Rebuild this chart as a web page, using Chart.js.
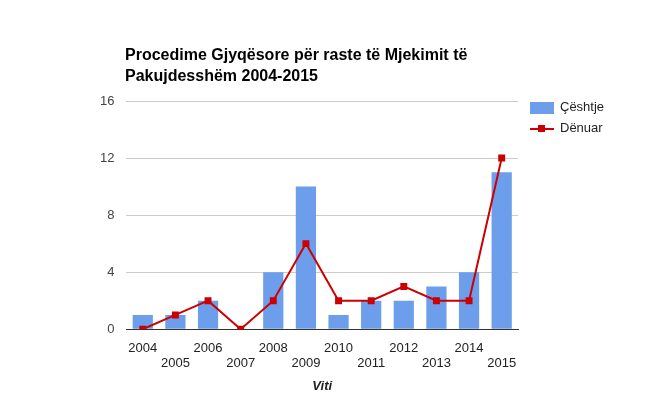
<!DOCTYPE html>
<html lang="sq">
<head>
<meta charset="UTF-8"/>
<script src="https://cdn.jsdelivr.net/npm/chart.js"></script>
<style>
  body { margin:0; background:#fff; font-family: Arial, "Liberation Sans", sans-serif; }
  #wrap { position:relative; width:659px; height:404px; }
  #title { position:absolute; left:125px; top:44px; font-weight:bold; font-size:16px; line-height:21px; color:#000; }
  .leg { position:absolute; left:530px; font-size:13px; color:#222; height:14px; line-height:14px; }
  .leg .sw { display:inline-block; width:24px; height:12px; vertical-align:middle; margin-right:6px; position:relative; }
  .leg .ln { height:2px; background:#cc0000; margin-top:5px; margin-bottom:5px; }
  .leg .ln::after { content:''; position:absolute; left:8px; top:-3px; width:7px; height:7px; background:#cc0000; }
</style>
</head>
<body>
<div id="wrap">
  <div id="title">Procedime Gjyqësore për raste të Mjekimit të<br>Pakujdesshëm 2004-2015</div>
  <div class="leg" style="top:100px"><span class="sw" style="background:#6d9eeb"></span>Çështje</div>
  <div class="leg" style="top:121px"><span class="sw ln"></span>Dënuar</div>
  <canvas id="c" width="659" height="404"></canvas>
</div>
<script>
  const years = ['2004','2005','2006','2007','2008','2009','2010','2011','2012','2013','2014','2015'];
  const ceshtje = [1, 1, 2, 0, 4, 10, 1, 2, 2, 3, 4, 11];
  const denuar = [0, 1, 2, 0, 2, 6, 2, 2, 3, 2, 2, 12];
  const yTicks = [0, 4, 8, 12, 16];

  new Chart(document.getElementById('c'), {
    data: {
      labels: years,
      datasets: [
        { type: 'line', label: 'Dënuar', data: denuar, borderColor: '#cc0000', backgroundColor: '#cc0000',
          borderWidth: 2, pointStyle: 'rect', pointRadius: 3.5, tension: 0, order: 0 },
        { type: 'bar', label: 'Çështje', data: ceshtje, backgroundColor: '#6d9eeb',
          categoryPercentage: 1, barPercentage: 0.62, order: 1 }
      ]
    },
    options: {
      responsive: false,
      animation: false,
      layout: { padding: { left: 88, top: 101, right: 141, bottom: 6 } },
      plugins: { legend: { display: false }, tooltip: { enabled: false } },
      scales: {
        x: {
          grid: { display: false },
          border: { color: '#333' },
          ticks: {
            color: '#222', font: { size: 13 }, maxRotation: 0, autoSkip: false,
            callback: function (v, i) { return i % 2 === 0 ? [years[i], ''] : ['', years[i]]; }
          },
          title: { display: true, text: 'Viti', font: { size: 13, style: 'italic', weight: 'bold' }, color: '#222', padding: 4 }
        },
        y: {
          min: 0, max: 16,
          afterBuildTicks: function (s) { s.ticks = yTicks.map(v => ({ value: v })); },
          grid: { color: '#cccccc', drawTicks: false },
          border: { display: false },
          ticks: { color: '#444', font: { size: 13 }, padding: 12 }
        }
      }
    }
  });
</script>
</body>
</html>
